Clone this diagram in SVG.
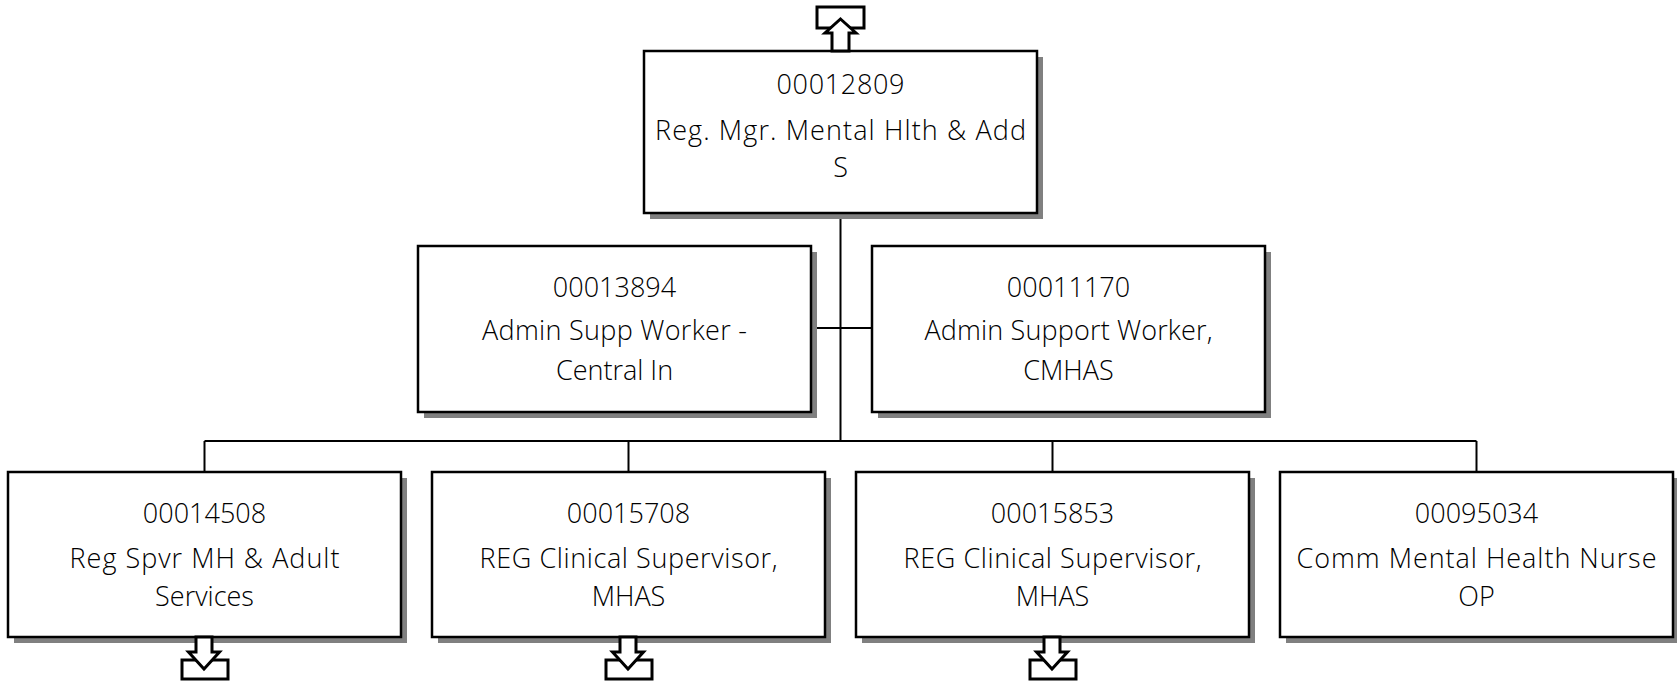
<svg xmlns="http://www.w3.org/2000/svg" width="1677" height="684" viewBox="0 0 1677 684">
<style>
.sh{fill:#808080;stroke:none}
.bx{fill:#fff;stroke:#000;stroke-width:2.5}
.t{font-family:"Open Sans","Liberation Sans",sans-serif;font-weight:300;font-size:27px;fill:#000;text-anchor:middle}
.cn{stroke:#000;stroke-width:2;fill:none}
.ar{fill:#fff;stroke:#000;stroke-width:3;stroke-linejoin:miter}
</style>
<rect width="1677" height="684" fill="#fff"/>
<g id="connectors">
<line class="cn" x1="840.5" y1="213" x2="840.5" y2="441"/>
<line class="cn" x1="811" y1="328" x2="872" y2="328"/>
<line class="cn" x1="204.5" y1="441" x2="1476.5" y2="441"/>
<line class="cn" x1="204.5" y1="441" x2="204.5" y2="472"/>
<line class="cn" x1="628.5" y1="441" x2="628.5" y2="472"/>
<line class="cn" x1="1052.5" y1="441" x2="1052.5" y2="472"/>
<line class="cn" x1="1476.5" y1="441" x2="1476.5" y2="472"/>
</g>
<g id="n00012809">
<rect class="sh" x="650" y="57" width="393" height="162"/>
<rect class="bx" x="644" y="51" width="393" height="162"/>
<text class="t" x="840.5" y="94" textLength="128" lengthAdjust="spacing">00012809</text>
<text class="t" x="840.5" y="140" textLength="371" lengthAdjust="spacing">Reg. Mgr. Mental Hlth &amp; Add</text>
<text class="t" x="840.5" y="177">S</text>
<rect class="ar" x="817" y="7" width="47" height="21"/>
<polygon class="ar" points="840.5,19 856,33 849,33 849,51 832,51 832,33 825,33"/>
</g>
<g id="n00013894">
<rect class="sh" x="424" y="252" width="393" height="166"/>
<rect class="bx" x="418" y="246" width="393" height="166"/>
<text class="t" x="614.5" y="297">00013894</text>
<text class="t" x="614.5" y="340" textLength="265" lengthAdjust="spacing">Admin Supp Worker -</text>
<text class="t" x="614.5" y="380">Central In</text>
</g>
<g id="n00011170">
<rect class="sh" x="878" y="252" width="393" height="166"/>
<rect class="bx" x="872" y="246" width="393" height="166"/>
<text class="t" x="1068.5" y="297">00011170</text>
<text class="t" x="1068.5" y="340" textLength="288" lengthAdjust="spacing">Admin Support Worker,</text>
<text class="t" x="1068.5" y="380">CMHAS</text>
</g>
<g id="n00014508">
<rect class="sh" x="14" y="478" width="393" height="165"/>
<rect class="bx" x="8" y="472" width="393" height="165"/>
<text class="t" x="204.5" y="523">00014508</text>
<text class="t" x="204.5" y="568" textLength="270" lengthAdjust="spacing">Reg Spvr MH &amp; Adult</text>
<text class="t" x="204.5" y="606">Services</text>
<rect class="ar" x="182" y="660" width="46" height="19"/>
<polygon class="ar" points="196,637 212,637 212,652 219.5,652 204,669 188.5,652 196,652"/>
</g>
<g id="n00015708">
<rect class="sh" x="438" y="478" width="393" height="165"/>
<rect class="bx" x="432" y="472" width="393" height="165"/>
<text class="t" x="628.5" y="523">00015708</text>
<text class="t" x="628.5" y="568" textLength="298" lengthAdjust="spacing">REG Clinical Supervisor,</text>
<text class="t" x="628.5" y="606">MHAS</text>
<rect class="ar" x="606" y="660" width="46" height="19"/>
<polygon class="ar" points="620,637 636,637 636,652 643.5,652 628,669 612.5,652 620,652"/>
</g>
<g id="n00015853">
<rect class="sh" x="862" y="478" width="393" height="165"/>
<rect class="bx" x="856" y="472" width="393" height="165"/>
<text class="t" x="1052.5" y="523">00015853</text>
<text class="t" x="1052.5" y="568" textLength="298" lengthAdjust="spacing">REG Clinical Supervisor,</text>
<text class="t" x="1052.5" y="606">MHAS</text>
<rect class="ar" x="1030" y="660" width="46" height="19"/>
<polygon class="ar" points="1044,637 1060,637 1060,652 1067.5,652 1052,669 1036.5,652 1044,652"/>
</g>
<g id="n00095034">
<rect class="sh" x="1286" y="478" width="393" height="165"/>
<rect class="bx" x="1280" y="472" width="393" height="165"/>
<text class="t" x="1476.5" y="523">00095034</text>
<text class="t" x="1476.5" y="568" textLength="360" lengthAdjust="spacing">Comm Mental Health Nurse</text>
<text class="t" x="1476.5" y="606">OP</text>
</g>
</svg>
